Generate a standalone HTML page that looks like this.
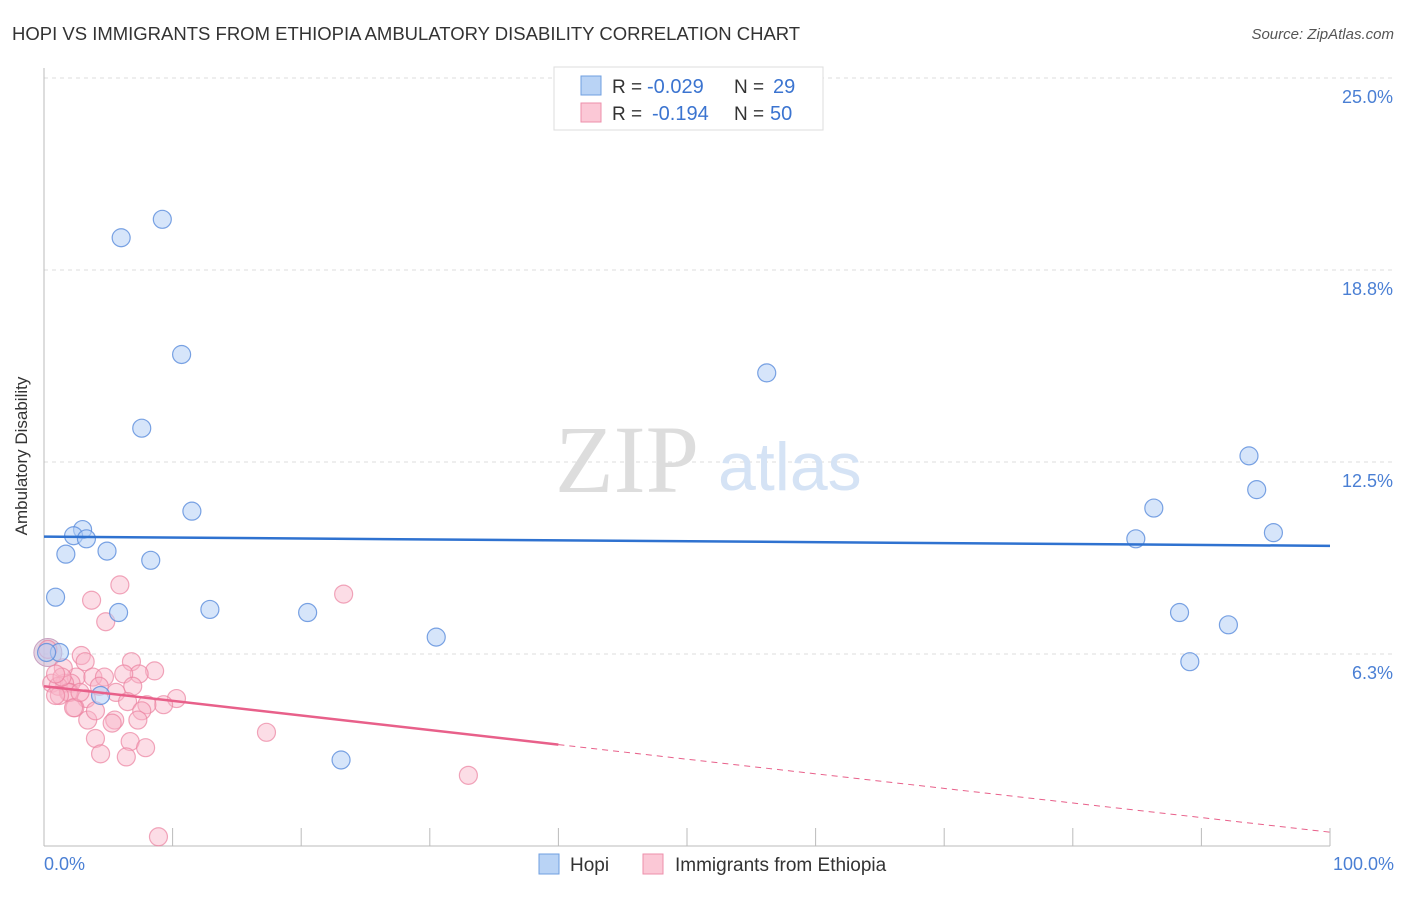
<!DOCTYPE html>
<html><head><meta charset="utf-8"><style>
body{margin:0;background:#fff;font-family:"Liberation Sans",sans-serif}
svg text{font-family:"Liberation Sans",sans-serif}
</style></head><body>
<svg width="1406" height="892" xmlns="http://www.w3.org/2000/svg">
<text x="12" y="40" font-size="18.5" fill="#333">HOPI VS IMMIGRANTS FROM ETHIOPIA AMBULATORY DISABILITY CORRELATION CHART</text>
<text x="1394" y="39" font-size="15" fill="#555" text-anchor="end" font-style="italic">Source: ZipAtlas.com</text>
<g id="grid"></g>
<g><text x="555" y="492" font-size="96" fill="#ddd" font-family="Liberation Serif" style="font-family:'Liberation Serif',serif">ZIP</text><text x="718" y="490" font-size="68" fill="#d5e3f5">atlas</text></g>
<g id="axes"></g>
<g id="pts"></g>
<g id="lines"></g>
<text x="27" y="456" font-size="17" fill="#333" text-anchor="middle" transform="rotate(-90 27 456)">Ambulatory Disability</text>
<text x="44" y="870" font-size="18" fill="#4a7fd4">0.0%</text>
<text x="1394" y="870" font-size="18" fill="#4a7fd4" text-anchor="end">100.0%</text>
<g>
<rect x="554" y="67" width="269" height="63" fill="#fff" stroke="#ddd"/>
<rect x="581" y="76" width="20" height="19" fill="#b9d3f5" stroke="#6f9fe0"/>
<rect x="581" y="103" width="20" height="19" fill="#fbc8d6" stroke="#ee8fab"/>
<text x="612" y="93" font-size="19" fill="#333">R =</text>
<text x="647" y="93" font-size="20" fill="#3b74d0">-0.029</text>
<text x="734" y="93" font-size="19" fill="#333">N =</text>
<text x="773" y="93" font-size="20" fill="#3b74d0">29</text>
<text x="612" y="120" font-size="19" fill="#333">R =</text>
<text x="652" y="120" font-size="20" fill="#3b74d0">-0.194</text>
<text x="734" y="120" font-size="19" fill="#333">N =</text>
<text x="770" y="120" font-size="20" fill="#3b74d0">50</text>
</g>
<g>
<rect x="539" y="854" width="20" height="20" fill="#b9d3f5" stroke="#6f9fe0"/>
<text x="570" y="871" font-size="19" fill="#333">Hopi</text>
<rect x="643" y="854" width="20" height="20" fill="#fbc8d6" stroke="#ee8fab"/>
<text x="675" y="871" font-size="19" fill="#333">Immigrants from Ethiopia</text>
</g>
</svg>
<script>
const yTicks=[25,18.75,12.5,6.25];
const yTickLabels=["25.0%","18.8%","12.5%","6.3%"];
const xTicks=[10,20,30,40,50,60,70,80,90,100];
const hopiX=[6.0,9.2,10.7,7.6,11.5,3.0,2.3,3.3,1.7,4.9,8.3,0.9,5.8,12.9,20.5,30.5,1.2,0.2,4.4,23.1,56.2,93.7,94.3,86.3,84.9,95.6,88.3,92.1,89.1];
const hopiY=[19.8,20.4,16.0,13.6,10.9,10.3,10.1,10.0,9.5,9.6,9.3,8.1,7.6,7.7,7.6,6.8,6.3,6.3,4.9,2.8,15.4,12.7,11.6,11.0,10.0,10.2,7.6,7.2,6.0];
const ethX=[5.9,3.7,4.8,23.3,0.3,2.9,3.2,6.8,8.6,7.4,6.2,2.5,3.8,4.7,2.1,1.6,0.6,1.1,6.9,5.6,2.0,1.9,1.2,0.9,10.3,9.3,8.0,6.5,3.3,2.4,2.3,5.5,7.6,7.3,3.4,5.3,17.3,4.0,6.7,7.9,4.4,6.4,33.0,8.9,1.5,1.4,4.3,4.0,2.8,0.9];
const ethY=[8.5,8.0,7.3,8.2,6.4,6.2,6.0,6.0,5.7,5.6,5.6,5.5,5.5,5.5,5.3,5.3,5.3,5.2,5.2,5.0,5.0,5.0,4.9,4.9,4.8,4.6,4.6,4.7,4.8,4.5,4.5,4.1,4.4,4.1,4.1,4.0,3.7,3.5,3.4,3.2,3.0,2.9,2.3,0.3,5.8,5.5,5.2,4.4,5.0,5.6];
const hopiFit=[10.07,9.77];
const ethFit=[5.2,0.45];
const ethSolidEnd=40;
const X=v=>44+v*12.86, Y=v=>846-v*30.72;
const NS="http://www.w3.org/2000/svg";
function mk(t,a,p){const e=document.createElementNS(NS,t);for(const k in a)e.setAttribute(k,a[k]);p.appendChild(e);return e;}
const grid=document.getElementById('grid'),axes=document.getElementById('axes'),pts=document.getElementById('pts'),lines=document.getElementById('lines');
yTicks.forEach((t,i)=>{
 const l=mk('line',{x1:44,x2:1394,y1:Y(t),y2:Y(t),stroke:'#ddd','stroke-dasharray':'4,4'},grid);
 
 
 const tx=mk('text',{x:1393,y:Y(t)+25,'font-size':18,fill:'#4a7fd4','text-anchor':'end'},grid);
 tx.textContent=yTickLabels[i];
 
 
});
mk('line',{x1:44,x2:44,y1:68,y2:846,stroke:'#bbb'},axes);
mk('line',{x1:44,x2:1330,y1:846,y2:846,stroke:'#bbb'},axes);
xTicks.forEach(t=>{
 const l=mk('line',{x1:X(t),x2:X(t),y1:828,y2:846,stroke:'#bbb'},axes);
 
 
});
const big=mk('circle',{cx:X(0.3),cy:Y(6.3),r:14,fill:'rgba(200,170,200,0.5)',stroke:'#c9a0c0'},pts);


ethX.forEach((x,i)=>{
 const c=mk('circle',{cx:X(x),cy:Y(ethY[i]),r:9,fill:'rgba(248,180,200,0.45)',stroke:'rgba(235,130,160,0.7)','stroke-width':1.2},pts);
 
 
});
hopiX.forEach((x,i)=>{
 const c=mk('circle',{cx:X(x),cy:Y(hopiY[i]),r:9,fill:'rgba(180,208,245,0.55)',stroke:'rgba(90,140,220,0.8)','stroke-width':1.2},pts);
 
 
});
const hl=mk('line',{x1:X(0),y1:Y(hopiFit[0]),x2:X(100),y2:Y(hopiFit[1]),stroke:'#2f72d0','stroke-width':2.5},lines);


const eAt=v=>ethFit[0]+(ethFit[1]-ethFit[0])*v/100;
const el1=mk('line',{x1:X(0),y1:Y(eAt(0)),x2:X(ethSolidEnd),y2:Y(eAt(ethSolidEnd)),stroke:'#e8608a','stroke-width':2.5},lines);


const el2=mk('line',{x1:X(ethSolidEnd),y1:Y(eAt(ethSolidEnd)),x2:X(100),y2:Y(eAt(100)),stroke:'#e8608a','stroke-width':1,'stroke-dasharray':'6,5'},lines);


</script>
</body></html>
